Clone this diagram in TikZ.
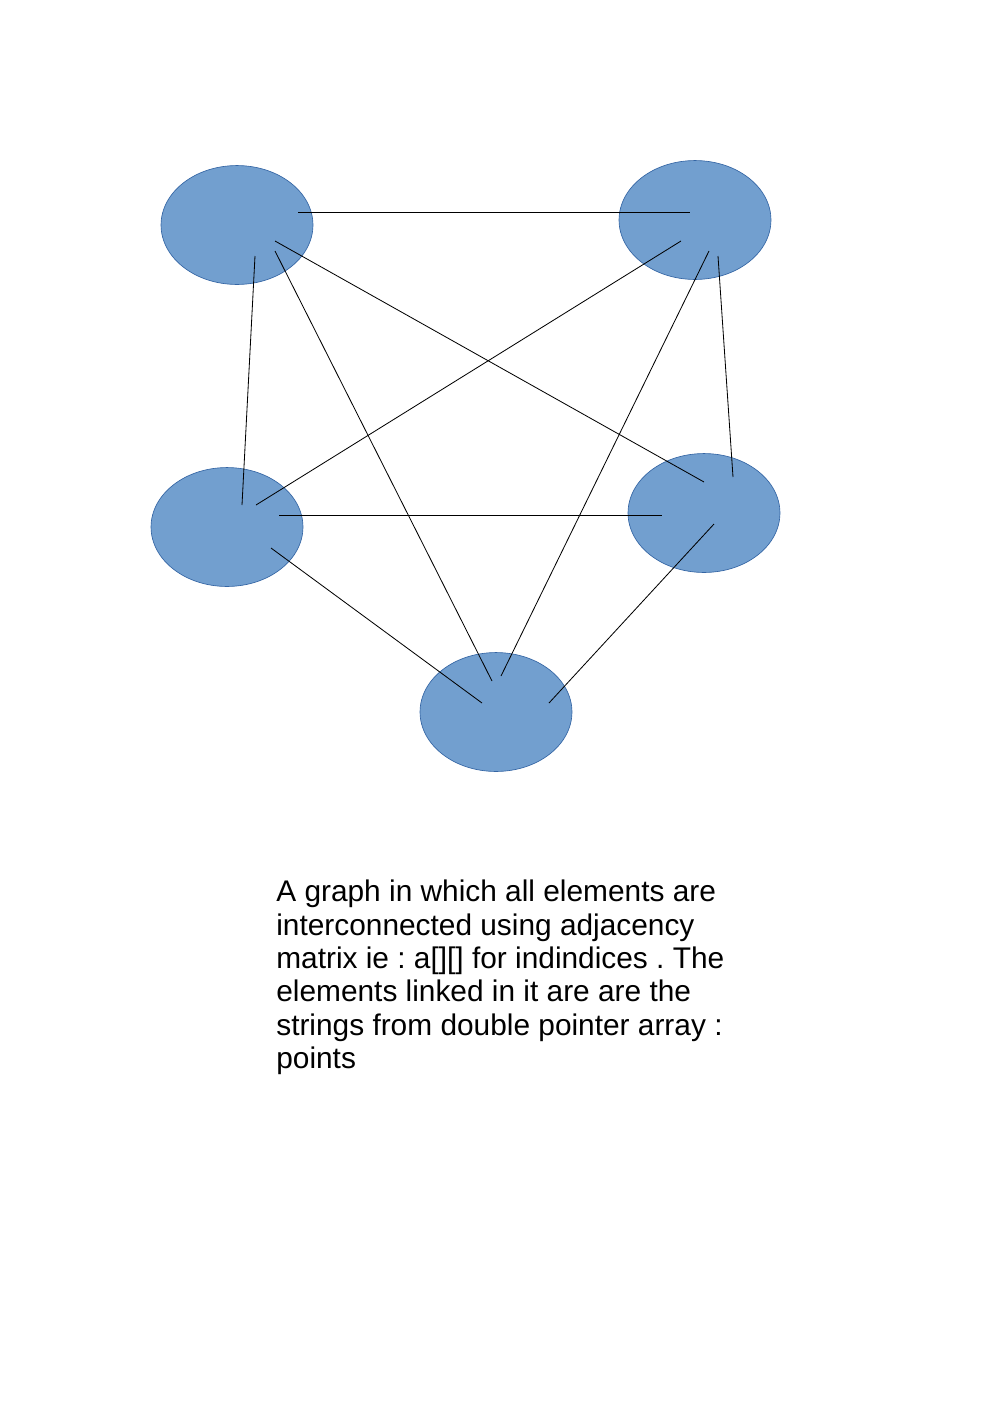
\documentclass[tikz,border=0pt]{standalone}
\usepackage{fontspec}
\setmainfont{Liberation Sans}
\usetikzlibrary{shapes.geometric}
\definecolor{vfill}{HTML}{729FCF}
\definecolor{vline}{HTML}{3465A4}

\begin{document}
\begin{tikzpicture}[x=0.0212cm, y=-0.0212cm,
		vertex/.style={ellipse, draw=vline, line width=0.4pt, fill=vfill,
			minimum width=3.22cm, minimum height=2.52cm, inner sep=0pt},
		edge/.style={line width=0.5pt, color=black}]
			%%%%% START %%%%%
			
			\useasboundingbox (0, 0) rectangle (992, 1403);
			
			\node[vertex] (topleft) at (237, 225) {};
			\node[vertex] (topright) at (695, 220) {};
			\node[vertex] (midleft) at (227, 527) {};
			\node[vertex] (midright) at (704, 513) {};
			\node[vertex] (bottom) at (496, 712) {};
			
			% line ends, inside the ellipses
			\coordinate (tl-tr) at (298, 212);
			\coordinate (tl-mr) at (275, 241);
			\coordinate (tl-bt) at (275, 251);
			\coordinate (tl-ml) at (255, 256);
			
			\coordinate (tr-tl) at (690, 212);
			\coordinate (tr-ml) at (681, 241);
			\coordinate (tr-bt) at (709, 251);
			\coordinate (tr-mr) at (718, 256);
			
			\coordinate (ml-tl) at (242, 505);
			\coordinate (ml-tr) at (256, 505);
			\coordinate (ml-mr) at (279, 515);
			\coordinate (ml-bt) at (271, 548);
			
			\coordinate (mr-tl) at (704, 482);
			\coordinate (mr-tr) at (733, 477);
			\coordinate (mr-ml) at (662, 515);
			\coordinate (mr-bt) at (714, 524);
			
			\coordinate (bt-ml) at (482, 703);
			\coordinate (bt-tl) at (492, 681);
			\coordinate (bt-tr) at (501, 676);
			\coordinate (bt-mr) at (549, 703);
			
			\draw[edge] (tl-tr) -- (tr-tl);
			\draw[edge] (tl-mr) -- (mr-tl);
			\draw[edge] (tl-bt) -- (bt-tl);
			\draw[edge] (tl-ml) -- (ml-tl);
			\draw[edge] (tr-ml) -- (ml-tr);
			\draw[edge] (tr-bt) -- (bt-tr);
			\draw[edge] (tr-mr) -- (mr-tr);
			\draw[edge] (ml-mr) -- (mr-ml);
			\draw[edge] (ml-bt) -- (bt-ml);
			\draw[edge] (mr-bt) -- (bt-mr);
			
			\node[anchor=north west, align=left, inner sep=0pt,
				font=\fontsize{18}{20.1}\selectfont\frenchspacing] (caption) at (276, 880)
				{A graph in which all elements are\\
				interconnected using adjacency\\
				matrix ie : a[][] for indindices . The\\
				elements linked in it are are the\\
				strings from double pointer array :\\
				points};
			
			%%%%% END %%%%%
		\end{tikzpicture}
\end{document}
